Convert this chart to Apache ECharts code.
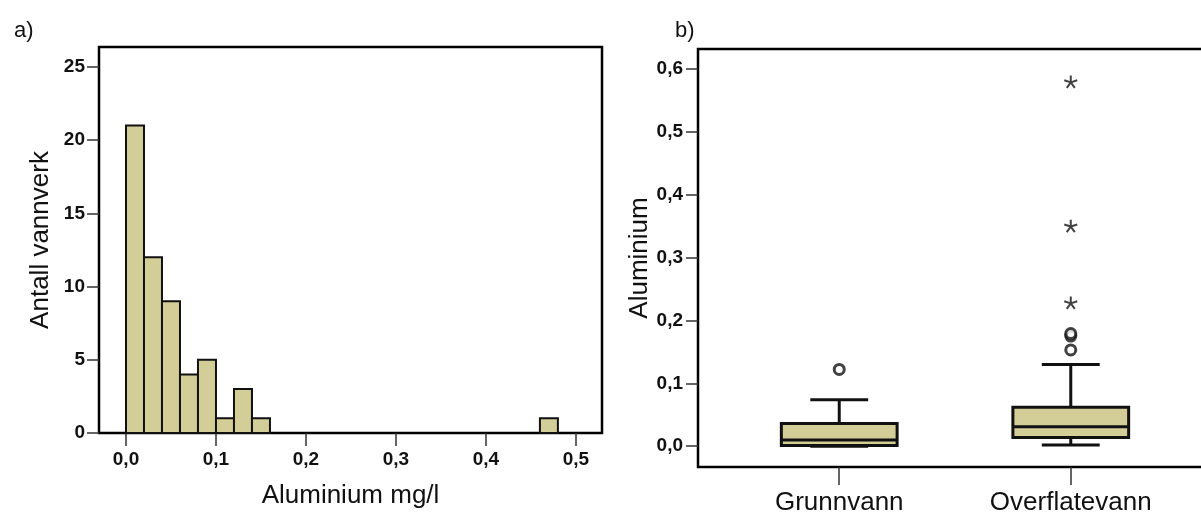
<!DOCTYPE html>
<html>
<head>
<meta charset="utf-8">
<script src="https://cdn.jsdelivr.net/npm/echarts@6/dist/echarts.min.js"></script>
<style>
  html, body { margin: 0; padding: 0; background: #fff; }
  #chart { width: 1201px; height: 517px; }
</style>
</head>
<body>
<div id="chart"></div>
<script>
// a) histogram of aluminium concentration per waterworks
const binStart = [0.00, 0.02, 0.04, 0.06, 0.08, 0.10, 0.12, 0.14, 0.46];
const binCounts = [21, 12, 9, 4, 5, 1, 3, 1, 1];
const binWidth = 0.02;
const histXTicks = [0, 0.1, 0.2, 0.3, 0.4, 0.5];
const histYTicks = [0, 5, 10, 15, 20, 25];

// b) box plots by water source: [min, Q1, median, Q3, max]
const groups = ['Grunnvann', 'Overflatevann'];
const boxStats = [
  [0.000, 0.001, 0.010, 0.036, 0.074],
  [0.002, 0.014, 0.031, 0.062, 0.130]
];
// [group index, value]
const mildOutliers = [[0, 0.122], [1, 0.153], [1, 0.175], [1, 0.179]];
const extremeOutliers = [[1, 0.228], [1, 0.350], [1, 0.579]];
const boxYTicks = [0, 0.1, 0.2, 0.3, 0.4, 0.5, 0.6];

const FILL = '#d3ce97';
const FONT = 'Liberation Sans, Arial, sans-serif';
const comma = v => v.toFixed(1).replace('.', ',');

const histData = binStart.map((s, i) => [s, s + binWidth, binCounts[i]]);
const boxData = boxStats.map((s, i) => [i + 1].concat(s));
const mildData = mildOutliers.map(d => [d[0] + 1, d[1]]);
const extremeData = extremeOutliers.map(d => [d[0] + 1, d[1]]);

const tickStyle = { show: true, length: 13, lineStyle: { color: '#333', width: 1.5 } };
const labelStyle = { color: '#111', fontFamily: FONT, fontSize: 19, fontWeight: 'bold' };
const nameStyle = { color: '#111', fontFamily: FONT, fontSize: 26 };
const noLine = { show: false, onZero: false };

const chart = echarts.init(document.getElementById('chart'), null, { renderer: 'canvas' });

chart.setOption({
  animation: false,
  backgroundColor: '#fff',
  title: [
    { text: 'a)', left: 9, top: 15, textStyle: { fontFamily: FONT, fontSize: 22, fontWeight: 'normal', color: '#111' } },
    { text: 'b)', left: 670, top: 15, textStyle: { fontFamily: FONT, fontSize: 22, fontWeight: 'normal', color: '#111' } }
  ],
  grid: [
    { left: 99, top: 47, width: 503, height: 386, outerBoundsMode: 'none', containLabel: false,
      show: true, borderColor: '#000', borderWidth: 2.5, backgroundColor: '#fff' },
    { left: 698, top: 49, width: 514, height: 418, outerBoundsMode: 'none', containLabel: false,
      show: true, borderColor: '#000', borderWidth: 2.5, backgroundColor: '#fff' }
  ],
  xAxis: [
    {
      type: 'value', gridIndex: 0, min: -0.03, max: 0.529,
      axisLine: noLine,
      axisTick: Object.assign({ customValues: histXTicks }, tickStyle),
      axisLabel: Object.assign({ customValues: histXTicks, margin: 17, formatter: comma }, labelStyle),
      splitLine: { show: false },
      name: 'Aluminium mg/l', nameLocation: 'middle', nameGap: 50, nameTextStyle: nameStyle
    },
    {
      type: 'value', gridIndex: 1, min: 0.39, max: 2.61,
      axisLine: noLine,
      axisTick: { show: true, customValues: [1, 2], length: 18, lineStyle: { color: '#333', width: 1.5 } },
      axisLabel: {
        customValues: [1, 2], margin: 23,
        formatter: v => groups[Math.round(v) - 1],
        color: '#111', fontFamily: FONT, fontSize: 26
      },
      splitLine: { show: false }
    }
  ],
  yAxis: [
    {
      type: 'value', gridIndex: 0, min: 0, max: 26.36,
      axisLine: noLine,
      axisTick: Object.assign({ customValues: histYTicks }, tickStyle, { length: 12 }),
      axisLabel: Object.assign({ customValues: histYTicks, margin: 14 }, labelStyle),
      splitLine: { show: false },
      name: 'Antall vannverk', nameLocation: 'middle', nameGap: 45, nameTextStyle: nameStyle
    },
    {
      type: 'value', gridIndex: 1, min: -0.033, max: 0.631,
      axisLine: noLine,
      axisTick: Object.assign({ customValues: boxYTicks }, tickStyle, { length: 12 }),
      axisLabel: Object.assign({ customValues: boxYTicks, margin: 15, formatter: comma }, labelStyle),
      splitLine: { show: false },
      name: 'Aluminium', nameLocation: 'middle', nameGap: 45, nameTextStyle: nameStyle
    }
  ],
  series: [
    {
      // histogram bars, one rectangle per bin
      type: 'custom', xAxisIndex: 0, yAxisIndex: 0,
      data: histData,
      encode: { x: [0, 1], y: 2 },
      renderItem: (params, api) => {
        const p0 = api.coord([api.value(0), api.value(2)]);
        const p1 = api.coord([api.value(1), 0]);
        return {
          type: 'rect',
          shape: { x: p0[0], y: p0[1], width: p1[0] - p0[0], height: p1[1] - p0[1] },
          style: { fill: FILL, stroke: '#111', lineWidth: 2 }
        };
      }
    },
    {
      // box plots with half-width whisker caps
      type: 'custom', xAxisIndex: 1, yAxisIndex: 1,
      data: boxData,
      encode: { x: 0, y: [1, 2, 3, 4, 5] },
      renderItem: (params, api) => {
        const x = api.value(0);
        const [mn, q1, md, q3, mx] = [1, 2, 3, 4, 5].map(i => api.value(i));
        const half = api.size([0.25, 0])[0];
        const cap = half / 2;
        const c = api.coord([x, md]);
        const cx = c[0];
        const yMin = api.coord([x, mn])[1];
        const yQ1 = api.coord([x, q1])[1];
        const yQ3 = api.coord([x, q3])[1];
        const yMax = api.coord([x, mx])[1];
        const yMd = c[1];
        const line = (x1, y1, x2, y2) => ({
          type: 'line', shape: { x1, y1, x2, y2 },
          style: { stroke: '#111', lineWidth: 3 }
        });
        return {
          type: 'group',
          children: [
            line(cx, yQ3, cx, yMax),
            line(cx - cap, yMax, cx + cap, yMax),
            line(cx, yQ1, cx, yMin),
            line(cx - cap, yMin, cx + cap, yMin),
            {
              type: 'rect',
              shape: { x: cx - half, y: yQ3, width: 2 * half, height: yQ1 - yQ3 },
              style: { fill: FILL, stroke: '#111', lineWidth: 3 }
            },
            line(cx - half, yMd, cx + half, yMd)
          ]
        };
      }
    },
    {
      type: 'scatter', xAxisIndex: 1, yAxisIndex: 1,
      data: mildData,
      symbol: 'circle', symbolSize: 10,
      itemStyle: { color: '#fff', borderColor: '#111', borderWidth: 3 }
    },
    {
      type: 'scatter', xAxisIndex: 1, yAxisIndex: 1,
      data: extremeData,
      symbol: 'path://M0,0L0,-1M0,0L0.951,-0.309M0,0L0.588,0.809M0,0L-0.588,0.809M0,0L-0.951,-0.309',
      symbolKeepAspect: true, symbolSize: 13,
      itemStyle: { color: '#111', borderColor: '#111', borderWidth: 2 }
    }
  ]
});
</script>
</body>
</html>
